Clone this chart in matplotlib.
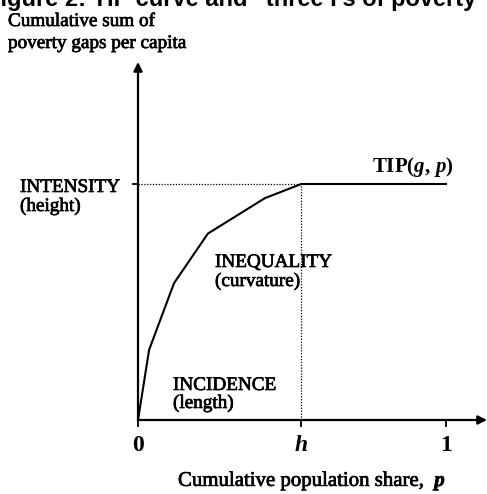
import numpy as np
import matplotlib
matplotlib.use("Agg")
import matplotlib.pyplot as plt
import matplotlib.patheffects as pe

# TIP curve points (population share p, cumulative poverty gap, intensity = 1)
p_vals = [0.0, 0.036, 0.117, 0.227, 0.412, 0.53, 1.0]
tip_vals = [0.0, 0.297, 0.58, 0.79, 0.94, 1.0, 1.0]
h = 0.53
intensity = 1.0
x_tick_labels = ["0", "$h$", "1"]

plt.rcParams["font.family"] = "Liberation Serif"
plt.rcParams["mathtext.fontset"] = "custom"
plt.rcParams["mathtext.rm"] = "Liberation Serif:bold"
plt.rcParams["mathtext.it"] = "Liberation Serif:bold:italic"
plt.rcParams["mathtext.bf"] = "Liberation Serif:bold"

W, H = 487, 494
fig = plt.figure(figsize=(W / 100, H / 100), dpi=100)

def fx(px):
    return px / W

def fy(py):
    return 1 - py / H

# scanned print looks a bit heavier than plain text
ink = [pe.withStroke(linewidth=0.5, foreground="black")]

# axes box: p in [0,1] -> px 138..446, TIP in [0,1] -> py 420..184
ax = fig.add_axes([fx(138), fy(420), (446 - 138) / W, (420 - 184) / H])
ax.set_xlim(0, 1)
ax.set_ylim(0, 1)
for s in ax.spines.values():
    s.set_visible(False)

# axes with arrows
ax.annotate("", xy=(0, 1.517), xytext=(0, 0), annotation_clip=False,
            arrowprops=dict(arrowstyle="-|>", lw=1.6, color="black",
                            mutation_scale=13, shrinkA=0, shrinkB=0))
ax.annotate("", xy=(1.133, 0), xytext=(0, 0), annotation_clip=False,
            arrowprops=dict(arrowstyle="-|>", lw=1.6, color="black",
                            mutation_scale=13, shrinkA=0, shrinkB=0))

# TIP curve
ax.plot(p_vals, tip_vals, color="black", lw=1.5, clip_on=False,
        solid_joinstyle="miter")

# dotted guides
ax.plot([0, h], [intensity, intensity], color="black", lw=0.9,
        linestyle=(0, (1, 1.3)), clip_on=False)
ax.plot([h, h], [0, intensity], color="black", lw=0.9,
        linestyle=(0, (1, 1.3)), clip_on=False)

# ticks
ax.set_xticks([0, h, 1])
ax.set_xticklabels(x_tick_labels, fontsize=17, fontweight="bold")
ax.tick_params(axis="x", direction="out", length=5, width=1.3, pad=6)
ax.set_yticks([intensity])
ax.set_yticklabels([""])
ax.tick_params(axis="y", direction="out", length=4, width=1.3)

# title (cut off at the top of the scan)
fig.text(fx(-14), fy(6), "Figure 2: TIP curve and \u201cthree I\u2019s of poverty\u201d",
         fontsize=17, fontweight="bold", family="Liberation Sans", va="baseline")

fs = 13.8
fig.text(fx(8), fy(26), "Cumulative sum of", fontsize=fs, va="baseline",
         path_effects=ink)
fig.text(fx(8), fy(48), "poverty gaps per capita", fontsize=fs, va="baseline",
         path_effects=ink)

fig.text(fx(20), fy(192), "INTENSITY", fontsize=fs, va="baseline",
         path_effects=ink)
fig.text(fx(20), fy(211), "(height)", fontsize=fs, va="baseline",
         path_effects=ink)

fig.text(fx(372), fy(172), r"$\mathrm{TIP}(g,\,p)$", fontsize=15, va="baseline")

fig.text(fx(215), fy(267), "INEQUALITY", fontsize=fs, va="baseline",
         path_effects=ink)
fig.text(fx(215), fy(286), "(curvature)", fontsize=fs, va="baseline",
         path_effects=ink)

fig.text(fx(173), fy(390), "INCIDENCE", fontsize=fs, va="baseline",
         path_effects=ink)
fig.text(fx(173), fy(408), "(length)", fontsize=fs, va="baseline",
         path_effects=ink)

fig.text(fx(178), fy(486), r"Cumulative population share,  $p$", fontsize=15,
         va="baseline", path_effects=ink)

fig.savefig("out.png", dpi=100)
